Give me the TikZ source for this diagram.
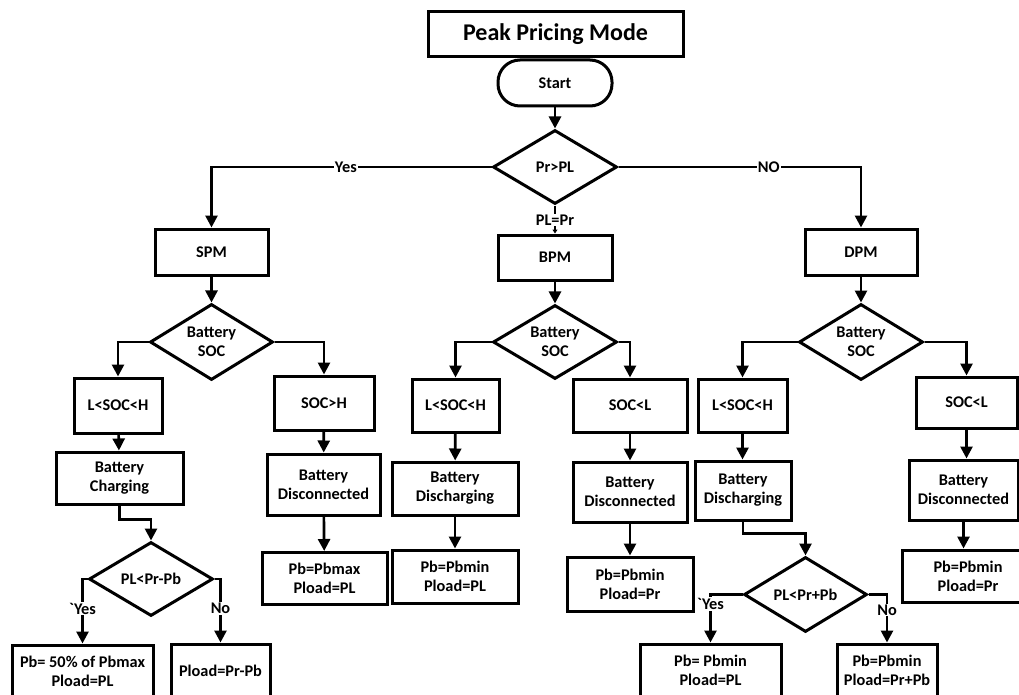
\documentclass[tikz,border=0pt]{standalone}
\usepackage{fontspec}
\setmainfont{Carlito}
\usetikzlibrary{shapes.geometric,arrows.meta,calc}

\tikzset{
  txt/.style={font=\bfseries\fontsize{16.3}{19}\selectfont, align=center},
  box/.style={txt, draw, line width=3pt, inner sep=1pt},
  dec/.style={txt, draw, diamond, line width=3pt, inner sep=0pt, aspect=1.6},
  flow/.style={line width=2.7pt, -{Triangle[width=12pt,length=12pt]}},
  lbl/.style={txt, fill=white, inner sep=1pt}
}

\begin{document}
\begin{tikzpicture}[x=1pt,y=-1pt]
\useasboundingbox (0,0) rectangle (1019,695);
\fill[white] (0,0) rectangle (1019,695);
\clip (0,0) rectangle (1019,695);

% header and start
\node[box, minimum width=255pt, minimum height=45pt, font=\bfseries\fontsize{24}{28}\selectfont] (title) at (555.5,34.5) {Peak Pricing Mode};
\node[box, rounded corners=22pt, minimum width=114pt, minimum height=46pt] (start) at (555,83) {Start};
\node[dec, minimum width=124pt, minimum height=74pt] (d0) at (555,167) {Pr>PL};

% three pricing modes
\node[box, minimum width=113pt, minimum height=46pt] (spm) at (211.5,252) {SPM};
\node[box, minimum width=114pt, minimum height=45pt] (bpm) at (555,257.5) {BPM};
\node[box, minimum width=112pt, minimum height=46pt] (dpm) at (861,252) {DPM};

% state-of-charge checks
\node[dec, minimum width=123pt, minimum height=76pt] (dS) at (211.5,342) {Battery\\SOC};
\node[dec, minimum width=124pt, minimum height=74pt] (dB) at (555,342) {Battery\\SOC};
\node[dec, minimum width=124pt, minimum height=76pt] (dD) at (861,342) {Battery\\SOC};

% SOC ranges
\node[box, minimum width=88pt, minimum height=55pt] (sL) at (118,405.5) {L<SOC<H};
\node[box, minimum width=100pt, minimum height=54pt] (sH) at (324,403) {SOC>H};
\node[box, minimum width=87pt, minimum height=53pt] (bL) at (455.5,405.5) {L<SOC<H};
\node[box, minimum width=114pt, minimum height=53pt] (bR) at (630,405.5) {SOC<L};
\node[box, minimum width=89pt, minimum height=53pt] (dL) at (742.5,405.5) {L<SOC<H};
\node[box, minimum width=101pt, minimum height=51pt] (dR) at (966.5,402.5) {SOC<L};

% battery states
\node[box, minimum width=127pt, minimum height=52pt] (sChg) at (119.5,478) {Battery\\Charging};
\node[box, minimum width=113pt, minimum height=61pt] (sDis) at (323.5,484.5) {Battery\\Disconnected};
\node[box, minimum width=126pt, minimum height=53pt] (bDch) at (455,488.5) {Battery\\Discharging};
\node[box, minimum width=114pt, minimum height=60pt] (bDis) at (630,492) {Battery\\Disconnected};
\node[box, minimum width=96pt, minimum height=59pt] (dDch) at (743,490.5) {Battery\\Discharging};
\node[box, minimum width=109pt, minimum height=60pt] (dDis) at (963.5,490) {Battery\\Disconnected};

% power settings
\node[dec, minimum width=124pt, minimum height=74pt] (sDia) at (151,579) {PL<Pr-Pb};
\node[box, minimum width=125pt, minimum height=52pt] (sMax) at (324.5,578.5) {Pb=Pbmax\\Pload=PL};
\node[box, minimum width=126pt, minimum height=53pt] (bMin) at (455,576.5) {Pb=Pbmin\\Pload=PL};
\node[box, minimum width=126pt, minimum height=54pt] (bMinR) at (630,584) {Pb=Pbmin\\Pload=Pr};
\node[box, minimum width=132pt, minimum height=52pt] (dMinR) at (968,576) {Pb=Pbmin\\Pload=Pr};
\node[dec, minimum width=123pt, minimum height=75pt] (dDia) at (805.5,594.5) {PL<Pr+Pb};

\node[box, minimum width=141pt, minimum height=53pt] (sY) at (82.5,671.5) {Pb= 50\% of Pbmax\\Pload=PL};
\node[box, minimum width=99pt, minimum height=53pt] (sN) at (220.5,670.5) {Pload=Pr-Pb};
\node[box, minimum width=141pt, minimum height=53pt] (dY) at (710.5,670.5) {Pb= Pbmin\\Pload=PL};
\node[box, minimum width=100pt, minimum height=53pt] (dN) at (887,670.5) {Pb=Pbmin\\Pload=Pr+Pb};

% top-level connectors
\draw[flow] (start) -- (d0);
\draw[flow] (d0.west) -| node[lbl, pos=0.26] {Yes} (spm.north);
\draw[flow] (d0.east) -| node[lbl, pos=0.31] {NO} (dpm.north);
\draw[line width=1.8pt, -{Triangle[width=5pt,length=4pt]}] (d0.south) -- node[lbl, pos=0.52] {PL=Pr} (bpm.north);

\draw[flow] (spm) -- (dS);
\draw[flow] (bpm) -- (dB);
\draw[flow] (dpm) -- (dD);

% SOC branches
\draw[flow] (dS.west) -| (sL.north);
\draw[flow] (dS.east) -| (sH.north);
\draw[flow] (dB.west) -| (bL.north);
\draw[flow] (dB.east) -| (bR.north);
\draw[flow] (dD.west) -| (dL.north);
\draw[flow] (dD.east) -| (dR.north);

% SPM column
\draw[flow] (sL) -- (sChg);
\draw[flow] (sH) -- (sDis);
\draw[flow] (sDis) -- (sMax);
\draw[flow] (sChg.south) -- ++(0,14) -| (sDia.north);
\draw[flow] (sDia.west) -| node[lbl, pos=0.73] {\textasciigrave Yes} (sY.north);
\draw[flow] (sDia.east) -| node[lbl, pos=0.73] {No} (sN.north);

% BPM column
\draw[flow] (bL) -- (bDch);
\draw[flow] (bDch) -- (bMin);
\draw[flow] (bR) -- (bDis);
\draw[flow] (bDis) -- (bMinR);

% DPM column
\draw[flow] (dL.south) -- (dL.south |- dDch.north);
\draw[flow] (dDch.south) -- ++(0,12) -| (dDia.north);
\draw[flow] (dDia.west) -| node[lbl, pos=0.6] {\textasciigrave Yes} (dY.north);
\draw[flow] (dDia.east) -| node[lbl, pos=0.66] {No} (dN.north);
\draw[flow] (dR.south) -- (dR.south |- dDis.north);
\draw[flow] (dDis.south) -- (dDis.south |- dMinR.north);
\end{tikzpicture}
\end{document}
